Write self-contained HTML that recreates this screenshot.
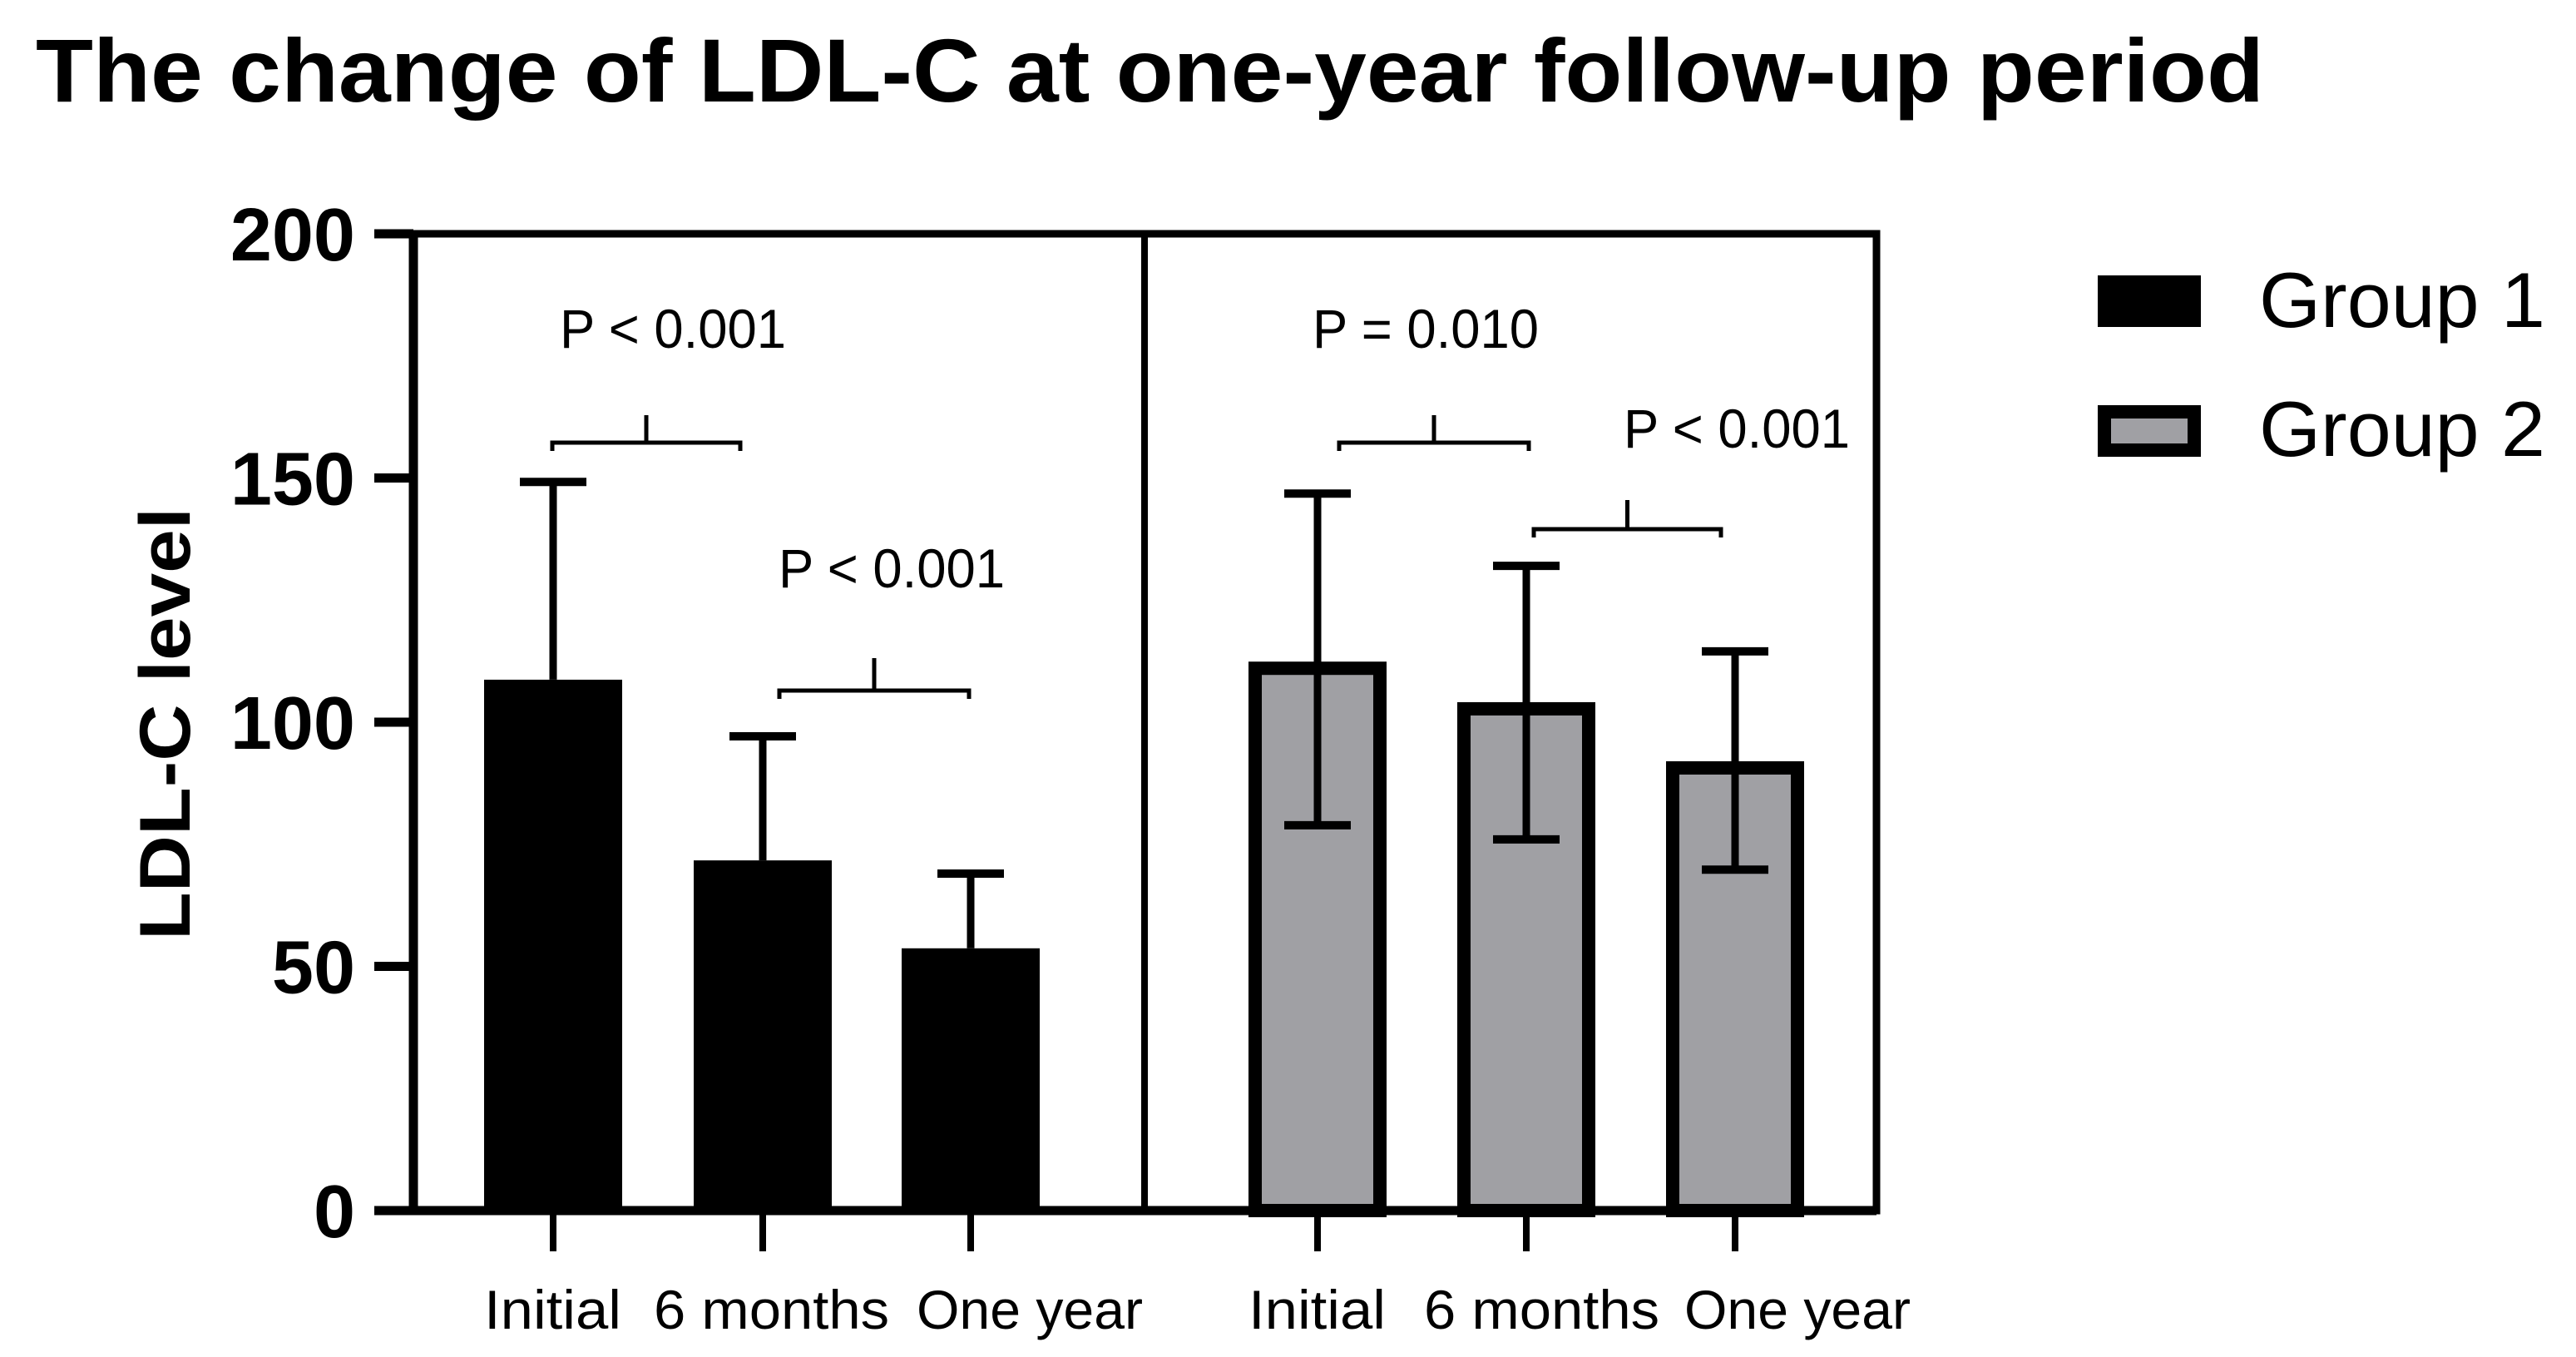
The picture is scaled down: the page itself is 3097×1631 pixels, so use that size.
<!DOCTYPE html>
<html><head><meta charset="utf-8"><style>
html,body{margin:0;padding:0;background:#fff;}
svg{display:block;}
text{font-family:"Liberation Sans",sans-serif;}
</style></head><body>
<svg id="chart" width="3097" height="1631" viewBox="0 0 3097 1631" xmlns="http://www.w3.org/2000/svg">
<text x="43" y="122" font-size="108" font-weight="bold" textLength="2679" lengthAdjust="spacingAndGlyphs">The change of LDL-C at one-year follow-up period</text>
<text transform="translate(228,870) rotate(-90)" text-anchor="middle" font-size="86" font-weight="bold" textLength="520" lengthAdjust="spacingAndGlyphs">LDL-C level</text>
<g id="marks"></g>
<g>
<rect x="2522" y="331" width="124" height="62" fill="#000"/>
<text x="2716" y="393" font-size="94" textLength="344" lengthAdjust="spacingAndGlyphs">Group 1</text>
<rect x="2530" y="495" width="108" height="46" fill="#a0a0a4" stroke="#000" stroke-width="16"/>
<text x="2716" y="548" font-size="94" textLength="344" lengthAdjust="spacingAndGlyphs">Group 2</text>
</g>
</svg>
<script>
const categories = ["Initial", "6 months", "One year"];
const group1Means = [108.7, 71.7, 53.7];
const group1Upper = [149.2, 97.1, 69.0];
const group2Means = [112.4, 104.1, 92.0];
const group2Upper = [146.8, 132.0, 114.5];
const group2Lower = [78.9, 76.0, 69.8];
const yTicks = [0, 50, 100, 150, 200];
const pLabels = ["P < 0.001", "P < 0.001", "P = 0.010", "P < 0.001"];

const NS = "http://www.w3.org/2000/svg";
const g = document.getElementById("marks");
const Y0 = 1455, Y200 = 281;
function y(v){ return Y0 - (v / 200) * (Y0 - Y200); }
const g1x = [665, 917, 1167], g2x = [1584, 1835, 2086];
const g1lx = [582, 786, 1102], g2lx = [1501, 1712, 2025];
const labelW = [165, 283, 272];
const BW = 166;
function el(tag, attrs, parent){
  const e = document.createElementNS(NS, tag);
  for (const k in attrs) e.setAttribute(k, attrs[k]);
  (parent || g).appendChild(e);
  return e;
}
let f = el("rect", {x:497, y:y(200), width:2256-497, height:Y0-y(200), fill:"none", stroke:"#000", "stroke-width":9});


let d = el("line", {x1:1376, y1:y(200), x2:1376, y2:Y0, stroke:"#000", "stroke-width":8});


let la = el("line", {x1:497, y1:y(200)-4, x2:497, y2:Y0+4, stroke:"#000", "stroke-width":11});


let ba = el("line", {x1:450, y1:Y0, x2:2256, y2:Y0, stroke:"#000", "stroke-width":11});


yTicks.forEach(t => {
  const tk = el("line", {x1:450, y1:y(t), x2:497, y2:y(t), stroke:"#000", "stroke-width":11});
  
  
  const tl = el("text", {x:427, y:y(t)+32, "text-anchor":"end", "font-size":90, "font-weight":"bold"});
  tl.textContent = t;
  
  
});
function xlabels(xs, lxs){
  xs.forEach((cx, i) => {
    const tk = el("line", {x1:cx, y1:Y0, x2:cx, y2:1504, stroke:"#000", "stroke-width":8});
    
    
    const tl = el("text", {x:lxs[i], y:1597, "font-size":66, textLength:labelW[i], lengthAdjust:"spacingAndGlyphs"});
    tl.textContent = categories[i];
    
    
  });
}
xlabels(g1x, g1lx); xlabels(g2x, g2lx);
g1x.forEach((cx, i) => {
  const eb = el("line", {x1:cx, y1:y(group1Upper[i]), x2:cx, y2:y(group1Means[i]), stroke:"#000", "stroke-width":9});
  
  
  const cap = el("line", {x1:cx-40, y1:y(group1Upper[i]), x2:cx+40, y2:y(group1Upper[i]), stroke:"#000", "stroke-width":10});
  
  
  const b = el("rect", {x:cx-BW/2, y:y(group1Means[i]), width:BW, height:Y0-y(group1Means[i]), fill:"#000"});
  
  
});
g2x.forEach((cx, i) => {
  const top = y(group2Means[i]);
  const b = el("rect", {x:cx-BW/2+8, y:top+8, width:BW-16, height:Y0-top-8, fill:"#a0a0a4", stroke:"#000", "stroke-width":16});
  
  
  const eb = el("line", {x1:cx, y1:y(group2Upper[i]), x2:cx, y2:y(group2Lower[i]), stroke:"#000", "stroke-width":9});
  
  
  [group2Upper[i], group2Lower[i]].forEach(v => {
    const cap = el("line", {x1:cx-40, y1:y(v), x2:cx+40, y2:y(v), stroke:"#000", "stroke-width":10});
    
    
  });
});
const brackets = [
  {x1:664, x2:890, yb:532, ys:499, tx:809, ty:418},
  {x1:937, x2:1165, yb:830, ys:791, tx:1072, ty:706},
  {x1:1610, x2:1838, yb:532, ys:499, tx:1714, ty:418},
  {x1:1844, x2:2069, yb:636, ys:601, tx:2088, ty:538}
];
brackets.forEach((bk, i) => {
  const p = el("path", {d:`M${bk.x1},${bk.yb+10} V${bk.yb} H${bk.x2} V${bk.yb+10} M${(bk.x1+bk.x2)/2},${bk.yb} V${bk.ys}`, fill:"none", stroke:"#000", "stroke-width":5});
  
  
  const t = el("text", {x:bk.tx, y:bk.ty, "text-anchor":"middle", "font-size":66, textLength:272, lengthAdjust:"spacingAndGlyphs"});
  t.textContent = pLabels[i];
  
  
});
</script>
</body></html>
